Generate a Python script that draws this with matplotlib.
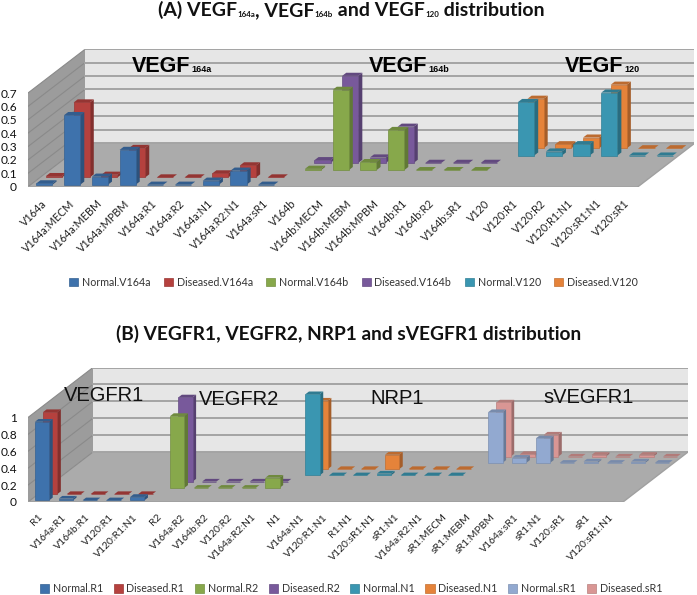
import numpy as np
import matplotlib
matplotlib.use("Agg")
import matplotlib.pyplot as plt
from matplotlib.patches import Polygon, Patch
from matplotlib import colors as mc
from matplotlib.transforms import ScaledTranslation

plt.rcParams['font.family'] = ['Lato', 'DejaVu Sans']

N = np.nan
# ---------- data, panel A
cats_a = ["V164a","V164a:MECM","V164a:MEBM","V164a:MPBM","V164a:R1","V164a:R2","V164a:N1","V164a:R2:N1","V164a:sR1",
          "V164b","V164b:MECM","V164b:MEBM","V164b:MPBM","V164b:R1","V164b:R2","V164b:sR1",
          "V120","V120:R1","V120:R2","V120:R1:N1","V120:sR1:N1","V120:sR1"]
normal_v164a   = [0.01,0.52,0.06,0.26,0,0,0.03,0.105,0]+[N]*13
diseased_v164a = [0.01,0.56,0.02,0.22,0,0,0.03,0.09,0]+[N]*13
normal_v164b   = [N]*9+[0.01,0.60,0.06,0.30,0,0,0]+[N]*6
diseased_v164b = [N]*9+[0.02,0.65,0.04,0.27,0,0,0]+[N]*6
normal_v120    = [N]*16+[0.40,0.03,0.085,0.47,0,0]
diseased_v120  = [N]*16+[0.37,0.03,0.08,0.475,0,0]
names_a = ["Normal.V164a","Diseased.V164a","Normal.V164b","Diseased.V164b","Normal.V120","Diseased.V120"]
series_a = [normal_v164a,diseased_v164a,normal_v164b,diseased_v164b,normal_v120,diseased_v120]
yticks_a = [0,0.1,0.2,0.3,0.4,0.5,0.6,0.7]
yticklabels_a = ["0","0.1","0.2","0.3","0.4","0.5","0.6","0.7"]

# ---------- data, panel B
cats_b = ["R1","V164a:R1","V164b:R1","V120:R1","V120:R1:N1",
          "R2","V164a:R2","V164b:R2","V120:R2","V164a:R2:N1",
          "N1","V164a:N1","V120:R1:N1","R1:N1","V120:sR1:N1","sR1:N1","V164a:R2:N1",
          "sR1:MECM","sR1:MEBM","sR1:MPBM","V164a:sR1","sR1:N1","V120:sR1","sR1","V120:sR1:N1"]
normal_r1   = [0.93,0.02,0,0,0.04]+[N]*20
diseased_r1 = [0.97,0,0,0,0]+[N]*20
normal_r2   = [N]*5+[0.85,0,0,0,0.12]+[N]*15
diseased_r2 = [N]*5+[0.996,0,0,0,0]+[N]*15
normal_n1   = [N]*10+[0.96,0,0,0.02,0,0,0]+[N]*8
diseased_n1 = [N]*10+[0.81,0,0,0.17,0,0,0]+[N]*8
normal_sr1  = [N]*17+[0.60,0.06,0.29,0,0.015,0,0.015,0]
diseased_sr1= [N]*17+[0.64,0.03,0.26,0,0.02,0,0.02,0]
names_b = ["Normal.R1","Diseased.R1","Normal.R2","Diseased.R2","Normal.N1","Diseased.N1","Normal.sR1","Diseased.sR1"]
series_b = [normal_r1,diseased_r1,normal_r2,diseased_r2,normal_n1,diseased_n1,normal_sr1,diseased_sr1]
yticks_b = [0,0.2,0.4,0.6,0.8,1]
yticklabels_b = ["0","0.2","0.4","0.6","0.8","1"]

colors_a = ['#3E72AC','#B5413E','#87A84B','#78599B','#3A96B1','#E5833A']
colors_b = ['#3E72AC','#B5413E','#87A84B','#78599B','#3A96B1','#E5833A','#92A9D0','#D99694']

W, H = 697, 595
fig = plt.figure(figsize=(W/100, H/100), dpi=100)
fig.patch.set_facecolor('white')

def shade(c, f):
    r = np.array(mc.to_rgb(c))*f
    return tuple(np.clip(r, 0, 1))

def panel(cats, series, colors, yticks, yticklabels, vmax, x0, x1, xback, x1back, y0, ytopfront, yback,
          barw, offset, depth, pad, xfs, xshift):
    """Oblique pseudo-3D chart: x = category, y = value, depth = series row."""
    n, m = len(cats), len(series)
    pxx = (x1-x0)/n
    pxy = (y0-ytopfront)/vmax
    top = yback-(y0-ytopfront)
    ax = fig.add_axes([x0/W, 1-y0/H, (x1back-x0)/W, (y0-top)/H])
    ax.set_xlim(0, (x1back-x0)/pxx)
    ax.set_ylim(0, (y0-top)/pxy)
    kx = (xback-x0)/pxx/m
    ky = (y0-yback)/pxy/m
    def P(x, d, v):
        return (x+d*kx, v+d*ky)
    X1 = float(n); D = float(m)
    wall = '#E6E6E6'; grid = '#A4A4A4'
    ax.add_patch(Polygon([P(0,D,0),P(X1,D,0),P(X1,D,vmax),P(0,D,vmax)], fc=wall, ec='none', zorder=1))
    ax.add_patch(Polygon([P(0,0,0),P(0,D,0),P(0,D,vmax),P(0,0,vmax)], fc='#9C9C9C', ec='none', zorder=1))
    ax.add_patch(Polygon([P(0,0,0),P(X1,0,0),P(X1,D,0),P(0,D,0)], fc='#ABABAB', ec='none', zorder=1))
    for t in yticks:
        a, b, c = P(0,0,t), P(0,D,t), P(X1,D,t)
        ax.plot([a[0],b[0]],[a[1],b[1]], color='#8A8A8A', lw=0.8, zorder=2)
        ax.plot([b[0],c[0]],[b[1],c[1]], color=grid, lw=1.4, zorder=2)
    a, b = P(0,0,0), P(X1,0,0)
    ax.plot([a[0],b[0]],[a[1],b[1]], color='#A0A0A0', lw=1.3, zorder=2)
    a = P(X1,0,0); b = P(X1,D,0)
    ax.plot([a[0],b[0]],[a[1],b[1]], color='#A0A0A0', lw=1.0, zorder=2)
    z = 3
    for r in range(m-1, -1, -1):
        col = colors[r]
        for i, v in enumerate(series[r]):
            if np.isnan(v):
                continue
            xa = i+0.5-barw/2; xb = i+0.5+barw/2
            d0 = r+offset; d1 = r+offset+depth
            ax.add_patch(Polygon([P(xb,d0,0),P(xb,d1,0),P(xb,d1,v),P(xb,d0,v)],
                                 fc=shade(col,0.72), ec='none', zorder=z)); z += 1
            ax.add_patch(Polygon([P(xa,d0,v),P(xb,d0,v),P(xb,d1,v),P(xa,d1,v)],
                                 fc=shade(col,0.82), ec='none', zorder=z)); z += 1
            ax.add_patch(Polygon([P(xa,d0,0),P(xb,d0,0),P(xb,d0,v),P(xa,d0,v)],
                                 fc=col, ec=shade(col,0.85), lw=0.5, zorder=z)); z += 1
    ax.patch.set_visible(False)
    for s in ax.spines.values():
        s.set_visible(False)
    ax.set_yticks(yticks, yticklabels)
    ax.set_xticks(np.arange(n)+0.5, cats, rotation=45, ha='right', va='top', rotation_mode='anchor')
    ax.tick_params(axis='both', length=0)
    ax.tick_params(axis='y', labelsize=8.6, pad=8, labelcolor='#111111')
    ax.tick_params(axis='x', labelsize=xfs, pad=pad, labelcolor='#222222')
    off = ScaledTranslation(xshift/100, 0, fig.dpi_scale_trans)
    for lab in ax.get_xticklabels():
        lab.set_transform(lab.get_transform()+off)
    return ax

ax_a = panel(cats_a, series_a, colors_a, yticks_a, yticklabels_a, 0.7, 28, 638, 85, 694, 186.7, 93, 143,
             0.58, 0.27, 0.43, 8, 7.8, -1)
ax_b = panel(cats_b, series_b, colors_b, yticks_b, yticklabels_b, 1.0, 28, 623, 93, 688, 502, 417.5, 452,
             0.60, 0.27, 0.43, 7.6, 7.5, -2)

renderer = fig.canvas.get_renderer()

def rich(px_center, py, parts, size, subsize):
    """Lay out a bold title from (string, is_subscript) runs, centred on px_center."""
    ts = []
    for s, sub in parts:
        ts.append(fig.text(0, 1-py/H, s, fontsize=subsize if sub else size, fontweight='bold', ha='left', va='baseline', color='#111111'))
    widths = [t.get_window_extent(renderer).width for t in ts]
    x = px_center-sum(widths)/2
    for t, w, (s, sub) in zip(ts, widths, parts):
        t.set_x(x/W)
        if sub:
            t.set_y(1-(py+1)/H)
        x += w

rich(351.5, 16, [("(A) VEGF",0),("164a",1),(", VEGF",0),("164b",1),(" and VEGF",0),("120",1),(" distribution",0)], 14.0, 5.7)
fig.text(348.5/W, 1-339.5/H, "(B) VEGFR1, VEGFR2, NRP1 and sVEGFR1 distribution",
         ha='center', va='baseline', fontsize=13.8, fontweight='bold', color='#111111')

def glabel(px, py, main, sub):
    t = fig.text(px/W, 1-py/H, main, fontsize=15.5, fontweight='bold', family='Liberation Sans', ha='left', va='baseline')
    r = t.get_window_extent(renderer)
    fig.text((r.x1+1)/W, 1-(py)/H, sub, fontsize=6.5, fontweight='bold', family='Liberation Sans', ha='left', va='baseline')

glabel(132, 72, "VEGF", "164a")
glabel(369, 72, "VEGF", "164b")
glabel(565, 72, "VEGF", "120")
for px, py, s in [(64, 401, "VEGFR1"), (198.5, 405, "VEGFR2"), (370.5, 403.5, "NRP1"), (543, 403, "sVEGFR1")]:
    fig.text(px/W, 1-py/H, s, fontsize=14.5, family='Liberation Sans', color='#111111', ha='left', va='baseline', zorder=50)

def legend(names, colors, anchor_y, anchor_x, colsp, fs):
    h = [Patch(fc=c, ec=shade(c,0.85), lw=0.5) for c in colors]
    fig.legend(h, names, ncol=len(names), loc='center', bbox_to_anchor=(anchor_x/W, 1-anchor_y/H),
               frameon=False, fontsize=fs, handlelength=0.85, handleheight=0.85, handletextpad=0.35,
               columnspacing=colsp, borderpad=0, labelcolor='#333333')

legend(names_a, colors_a, 282, 353.5, 1.25, 7.7)
legend(names_b, colors_b, 588.5, 351, 1.0, 7.7)

fig.savefig("out.png", dpi=100, facecolor='white')
